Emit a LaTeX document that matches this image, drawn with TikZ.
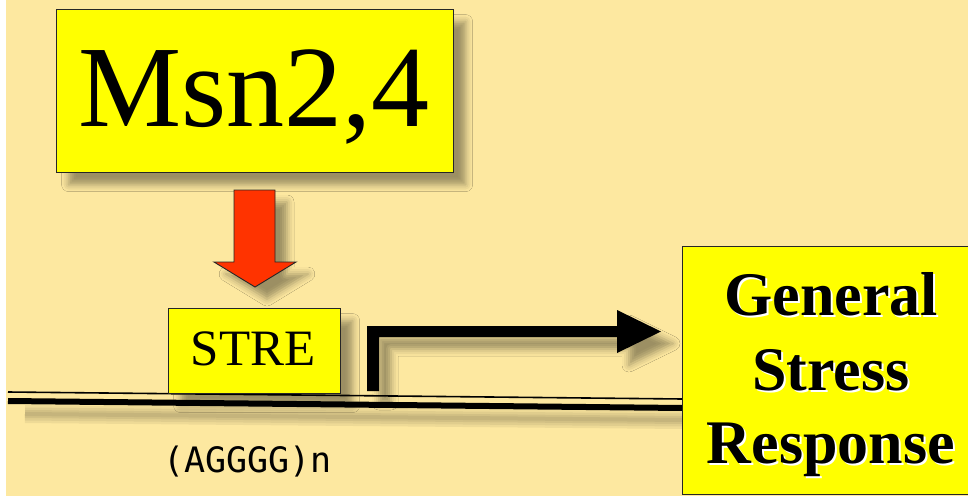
\documentclass[tikz,border=0pt]{standalone}
\usepackage{fontspec}
\setmainfont{Liberation Serif}
\newfontfamily\monofam{DejaVu Sans Mono}
\usetikzlibrary{shadows.blur}
\definecolor{bgc}{RGB}{253,232,160}
\definecolor{boxy}{RGB}{255,255,0}
\definecolor{redarr}{RGB}{255,51,0}
\newcommand{\whiteshadowtext}[1]{\rlap{\kern2pt\raisebox{-2pt}{\color{white}#1}}#1}
\begin{document}
\begin{tikzpicture}[x=1pt,y=-1pt,
  ybox/.style={draw=black!85, line width=1.2pt, fill=boxy, inner sep=0pt, anchor=north west},
  sh/.style={blur shadow={shadow xshift=12pt, shadow yshift=-12pt, shadow blur radius=7pt, shadow opacity=38}},
  gstext/.style={font=\fontsize{62}{74}\bfseries\selectfont, inner sep=0pt, anchor=base},
  lbl/.style={inner sep=0pt, anchor=base}
]
\useasboundingbox (0,0) rectangle (968,498);
\fill[bgc] (6,0) rectangle (968,496);

% DNA shadow
\foreach \w in {18,13,8,4}
  \draw[black, opacity=0.06, line width=\w pt] (25,414) -- (683,420);

% DNA double line
\coordinate (dnaA) at (8,392);
\coordinate (dnaB) at (683,399);
\coordinate (dnaC) at (8,401);
\coordinate (dnaD) at (683,408);
\draw[black, line width=1.6pt] (dnaA) -- (dnaB);
\draw[black, line width=6pt] (dnaC) -- (dnaD);

% Msn2,4 box
\node[ybox, sh, minimum width=397pt, minimum height=163pt] (msn) at (56,9) {};
\node[lbl, font=\fontsize{116}{120}\selectfont] (msntext) at (254,126) {Msn2,4};

% red arrow
\fill[redarr, draw=black!85, line width=0.9pt, sh]
  (234,190) -- (275,190) -- (275,262) -- (296,262) -- (255,287)
  -- (214,262) -- (234,262) -- cycle;

% STRE box
\node[ybox, sh, minimum width=172pt, minimum height=85pt] (stre) at (168,308) {};
\node[lbl, font=\fontsize{51}{55}\selectfont] (stretext) at (253,365) {STRE};

% promoter arrow
\coordinate (prom) at (373,391);
\fill[black, sh]
  (367,391) -- (367,326) -- (617,326) -- (617,310) -- (661,331.5)
  -- (617,353) -- (617,337) -- (379,337) -- (379,391) -- cycle;

% General Stress Response box
\node[ybox, minimum width=300pt, minimum height=248pt] (gsr) at (682,246) {};
\foreach \t/\y in {General/315, Stress/390, Response/463}{
  \node[gstext] (gs-\t) at (831,\y) {\whiteshadowtext{\t}};
}

% motif
\node[inner sep=0pt, anchor=base west, font=\monofam\fontsize{35}{40}\selectfont] (motif) at (163,472) {(AGGGG)n};
\end{tikzpicture}
\end{document}
